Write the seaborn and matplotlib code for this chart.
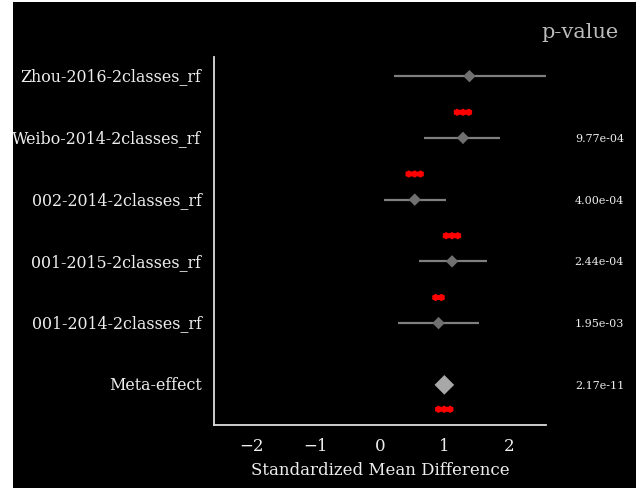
"""Forest plot: standardized mean difference per study + meta-effect."""

import matplotlib
matplotlib.use("Agg")
import matplotlib.pyplot as plt
import matplotlib.transforms as mtransforms
import matplotlib.patheffects as pe
from matplotlib.patches import Rectangle
import numpy as np
import pandas as pd
import seaborn as sns

# ---------- data ----------
studies = ["Zhou-2016-2classes_rf", "Weibo-2014-2classes_rf", "002-2014-2classes_rf",
           "001-2015-2classes_rf", "001-2014-2classes_rf", "Meta-effect"]
smd = [1.39, 1.29, 0.54, 1.12, 0.91, 1.00]
ci_low = [0.21, 0.69, 0.06, 0.60, 0.28, np.nan]
ci_high = [2.58, 1.87, 1.02, 1.66, 1.54, np.nan]
p_values = [None, "9.77e-04", "4.00e-04", "2.44e-04", "1.95e-03", "2.17e-11"]
stars = ["", "***", "***", "***", "**", "***"]

df = pd.DataFrame({"study": studies, "smd": smd, "lo": ci_low, "hi": ci_high})
df["row"] = np.arange(len(df))
df["is_meta"] = df["study"] == "Meta-effect"

sns.set_theme(style="ticks")
plt.rcParams["font.family"] = ["DejaVu Serif"]

fig = plt.figure(figsize=(6.36, 4.89), dpi=100, facecolor="black")
ax = fig.add_axes([214 / 636, 1 - 426 / 489, 332 / 636, 368 / 489])
ax.set_facecolor("black")

# 置信区间
ci = df[~df["is_meta"]]
ax.hlines(ci["row"], ci["lo"], ci["hi"], color="#7f7f7f", lw=1.6, zorder=1)

# 研究点 + meta 菱形
sns.scatterplot(data=df[~df["is_meta"]], x="smd", y="row", marker="D", s=40,
                color="#707070", edgecolor="none", ax=ax, zorder=2)
sns.scatterplot(data=df[df["is_meta"]], x="smd", y="row", marker="D", s=100,
                color="#a8a8a8", edgecolor="none", ax=ax, zorder=2)

# 显著性星号
for r, (x, st, meta) in enumerate(zip(df["smd"], stars, df["is_meta"])):
    if st:
        ax.text(x, r + (0.43 if meta else -0.38), st, color="red", fontsize=8,
                fontweight="bold", ha="center", va="center",
                path_effects=[pe.withStroke(linewidth=1.3, foreground="red")])

# p 值
trans = mtransforms.blended_transform_factory(fig.transFigure, ax.transData)
for r, p in enumerate(p_values):
    if p:
        ax.text(624 / 636, r, p, transform=trans, ha="right", va="center",
                color="#eeeeee", fontsize=8, clip_on=False)
fig.text(580 / 636, 1 - 33 / 489, "p-value", ha="center", va="center",
         color="#bbbbbb", fontsize=15)

lim = 2.58
ax.set_xlim(-lim, lim)
ax.set_ylim(5.65, -0.31)
ax.set_yticks(df["row"])
ax.set_yticklabels(studies)
ax.set_xticks([-2, -1, 0, 1, 2])
ax.set_xlabel("Standardized Mean Difference", color="#eeeeee", fontsize=12, labelpad=5)
ax.set_ylabel("")
ax.tick_params(axis="both", length=0, colors="#eeeeee")
ax.tick_params(axis="y", pad=9, labelsize=11.4)
ax.tick_params(axis="x", pad=8.5, labelsize=12)
# 标签稍微上移
shift = mtransforms.ScaledTranslation(0, 1.5 / 72, fig.dpi_scale_trans)
for lab in ax.get_yticklabels():
    lab.set_transform(lab.get_transform() + shift)
for side in ["top", "right"]:
    ax.spines[side].set_visible(False)
for side in ["left", "bottom"]:
    ax.spines[side].set_color("#dddddd")
    ax.spines[side].set_linewidth(1.3)

# 左侧和顶部的白边
fig.patches.append(Rectangle((0, 0), 13 / 636, 1, transform=fig.transFigure,
                             facecolor="white", edgecolor="none", zorder=10))
fig.patches.append(Rectangle((0, 1 - 3 / 489), 1, 3 / 489, transform=fig.transFigure,
                             facecolor="white", edgecolor="none", zorder=10))

fig.savefig("out.png", dpi=100, facecolor="black")
